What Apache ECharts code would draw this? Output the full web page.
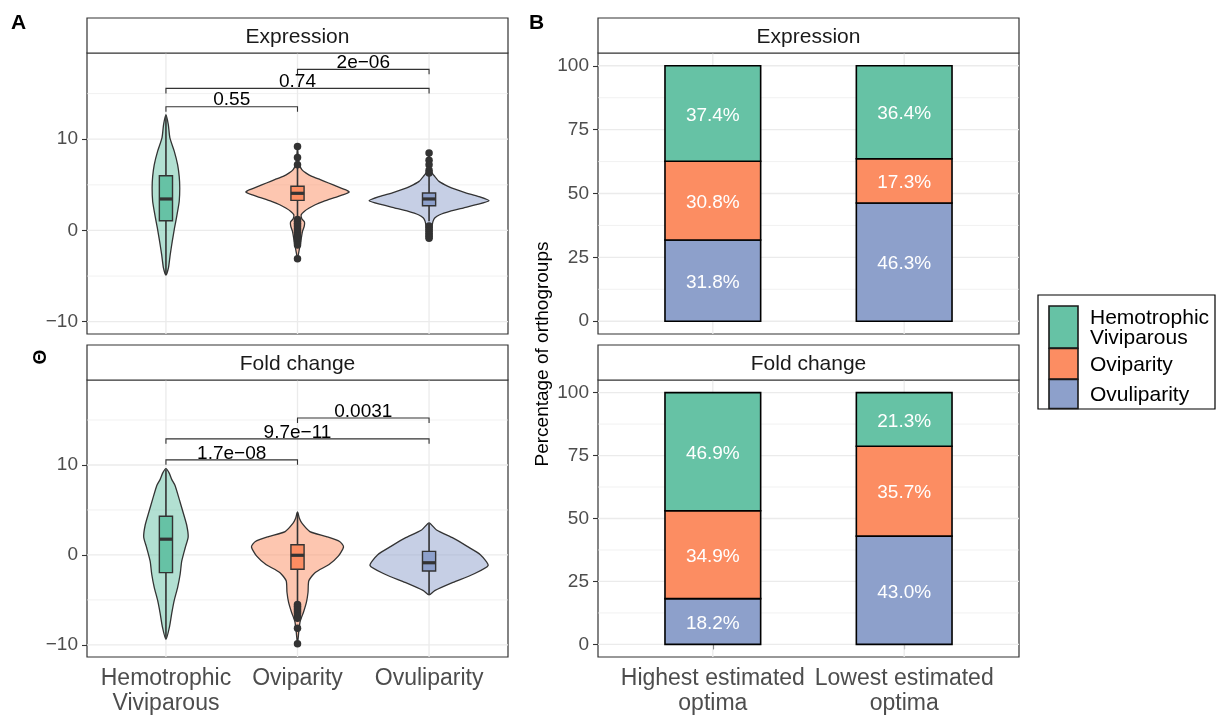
<!DOCTYPE html>
<html>
<head>
<meta charset="utf-8">
<script src="https://cdn.jsdelivr.net/npm/echarts@6/dist/echarts.min.js"></script>
<style>
  html, body { margin: 0; padding: 0; background: #fff; }
  #chart { width: 1216px; height: 716px; }
</style>
</head>
<body>
<div id="chart"></div>
<script>
// groups / facets
const groups = ['Hemotrophic\nViviparous', 'Oviparity', 'Ovuliparity'];
const optima = ['Highest estimated\noptima', 'Lowest estimated\noptima'];
const facets = ['Expression', 'Fold change'];
const colors = ['#66C2A5', '#FC8D62', '#8DA0CB'];

// violin outlines: [value, half width in x units]
const exprHemoViolin = [[12.7, 0], [11.6, .018], [10.15, .03], [8.7, .063], [7.2, .089], [5.9, .101], [4.65, .105], [3.2, .101], [1.7, .084], [0.25, .065], [-1.2, .048], [-2.7, .032], [-4.1, .019], [-4.9, 0]];
const exprOviViolin = [[9.2, 0], [8.0, .006], [7.2, .015], [6.67, .033], [6.31, .063], [5.93, .109], [5.57, .173], [5.2, .236], [4.84, .299], [4.47, .363], [4.22, .393], [3.92, .35], [3.56, .274], [3.19, .198], [2.82, .135], [2.46, .089], [2.09, .051], [1.72, .028], [1.29, .033], [0.92, .053], [0.44, .051], [-0.1, .038], [-1.2, .025], [-2.2, .012], [-3.1, 0]];
const exprOvuViolin = [[8.5, 0], [7.2, .006], [6.5, .015], [5.93, .043], [5.38, .076], [4.84, .144], [4.47, .208], [4.1, .284], [3.74, .373], [3.26, .456], [2.82, .36], [2.46, .259], [2.09, .157], [1.72, .081], [1.36, .043], [0.99, .03], [0.3, .02], [-0.85, 0]];
const foldHemoViolin = [[9.6, 0], [9.1, .025], [8.4, .044], [7.7, .07], [6.2, .101], [4.8, .129], [3.3, .158], [2.0, .169], [0.77, .146], [-0.7, .12], [-2.15, .108], [-3.6, .089], [-5.06, .063], [-6.5, .044], [-8.0, .027], [-9.4, 0]];
const foldOviViolin = [[4.78, 0], [4.04, .015], [3.5, .035], [2.59, .094], [2.04, .22], [1.5, .32], [0.9, .35], [-0.14, .31], [-1.06, .24], [-1.97, .133], [-2.88, .086], [-4.15, .08], [-5.25, .068], [-6.34, .046], [-7.4, .02], [-8.5, .01], [-9.9, 0]];
const foldOvuViolin = [[3.57, 0], [2.77, .057], [1.86, .184], [0.95, .29], [0.03, .39], [-1.17, .449], [-2.15, .335], [-3.06, .182], [-3.97, .043], [-4.45, 0]];

// box stats: [lower whisker, q1, median, q3, upper whisker]
const exprBoxes = [[-4.8, 1.07, 3.45, 6.0, 12.6], [1.5, 3.3, 4.07, 4.84, 7.0], [1.0, 2.7, 3.45, 4.1, 6.1]];
const foldBoxes = [[-9.3, -1.97, 1.75, 4.3, 9.5], [-5.4, -1.6, -0.04, 1.13, 4.7], [-4.4, -1.78, -0.87, 0.4, 3.5]];

// outliers: [group position, value]
const exprOutliers = [[2, 9.2], [2, 8.0], [2, 7.2], [2, 1.2], [2, 1.0], [2, 0.8], [2, 0.6], [2, 0.4], [2, 0.2], [2, 0.0], [2, -0.2], [2, -0.4], [2, -0.6], [2, -0.8], [2, -1.0], [2, -1.2], [2, -1.4], [2, -1.6], [2, -3.1],
  [3, 8.5], [3, 7.7], [3, 7.2], [3, 6.6], [3, 6.3], [3, 0.5], [3, 0.3], [3, 0.1], [3, -0.1], [3, -0.3], [3, -0.5], [3, -0.7], [3, -0.85]];
const foldOutliers = [[2, -5.5], [2, -5.7], [2, -5.9], [2, -6.1], [2, -6.3], [2, -6.5], [2, -6.8], [2, -7.05], [2, -8.15], [2, -9.87]];

// significance brackets: [from, to, height, p]
const exprBrackets = [[1, 2, 13.56, '0.55'], [1, 3, 15.57, '0.74'], [2, 3, 17.66, '2e\u221206']];
const foldBrackets = [[1, 2, 10.57, '1.7e\u221208'], [1, 3, 12.9, '9.7e\u221211'], [2, 3, 15.22, '0.0031']];

// percentages per optimum [Highest, Lowest]
const exprHemotrophic = [37.4, 36.4];
const exprOviparity = [30.8, 17.3];
const exprOvuliparity = [31.8, 46.3];
const foldHemotrophic = [46.9, 21.3];
const foldOviparity = [34.9, 35.7];
const foldOvuliparity = [18.2, 43.0];

// axis ticks / grid lines
const aTicks = [-10, 0, 10];
const aMinor = [-5, 5, 15];
const bTicks = [0, 25, 50, 75, 100];
const bMinor = [12.5, 37.5, 62.5, 87.5];

const FONT = '"Liberation Sans", Arial, Helvetica, sans-serif';
const fills = ['rgba(102,194,165,0.5)', 'rgba(252,141,98,0.5)', 'rgba(141,160,203,0.5)'];
const DARK = '#333333';
const minus = v => String(v).replace('-', '\u2212');

const chart = echarts.init(document.getElementById('chart'));

const gridBox = [
  { left: 87, top: 53 }, { left: 87, top: 380 },
  { left: 598, top: 53 }, { left: 598, top: 380 }
];

function gridLineSeries(i, xs, ticks, minor) {
  return {
    type: 'custom', xAxisIndex: i, yAxisIndex: i, silent: true, z: 1,
    data: [[xs[0], ticks[1]]],
    renderItem: function (params, api) {
      const cs = params.coordSys;
      const ch = [];
      minor.forEach(v => {
        const y = api.coord([xs[0], v])[1];
        ch.push({ type: 'line', shape: { x1: cs.x, y1: y, x2: cs.x + cs.width, y2: y }, style: { stroke: '#EBEBEB', lineWidth: 0.7 } });
      });
      ticks.forEach(v => {
        const y = api.coord([xs[0], v])[1];
        ch.push({ type: 'line', shape: { x1: cs.x, y1: y, x2: cs.x + cs.width, y2: y }, style: { stroke: '#EBEBEB', lineWidth: 1.3 } });
      });
      xs.forEach(v => {
        const x = api.coord([v, ticks[1]])[0];
        ch.push({ type: 'line', shape: { x1: x, y1: cs.y, x2: x, y2: cs.y + cs.height }, style: { stroke: '#EBEBEB', lineWidth: 1.3 } });
      });
      return { type: 'group', children: ch };
    }
  };
}

function violinSeries(i, profiles, boxes) {
  const BOX = 0.05;
  return {
    type: 'custom', xAxisIndex: i, yAxisIndex: i, silent: true, z: 3,
    data: boxes.map((b, k) => [k + 1, b[2]]),
    renderItem: function (params, api) {
      const k = params.dataIndex, x = k + 1, prof = profiles[k], b = boxes[k];
      const pts = prof.map(p => api.coord([x + p[1], p[0]]));
      for (let j = prof.length - 2; j >= 1; j--) pts.push(api.coord([x - prof[j][1], prof[j][0]]));
      const cx = api.coord([x, 0])[0];
      const hi = api.coord([x, b[4]])[1], lo = api.coord([x, b[0]])[1];
      const tl = api.coord([x - BOX, b[3]]), br = api.coord([x + BOX, b[1]]);
      const med = api.coord([x, b[2]])[1];
      return {
        type: 'group', children: [
          { type: 'polygon', shape: { points: pts, smooth: 0.2 }, style: { fill: fills[k], stroke: DARK, lineWidth: 1.3 } },
          { type: 'line', shape: { x1: cx, y1: hi, x2: cx, y2: lo }, style: { stroke: DARK, lineWidth: 1.6 } },
          { type: 'rect', shape: { x: tl[0], y: tl[1], width: br[0] - tl[0], height: br[1] - tl[1] }, style: { fill: colors[k], stroke: DARK, lineWidth: 1.4 } },
          { type: 'line', shape: { x1: tl[0], y1: med, x2: br[0], y2: med }, style: { stroke: DARK, lineWidth: 3.2 } }
        ]
      };
    }
  };
}

function outlierSeries(i, pts) {
  return {
    type: 'scatter', xAxisIndex: i, yAxisIndex: i, silent: true, z: 4,
    symbol: 'circle', symbolSize: 7.5, itemStyle: { color: DARK, opacity: 1 },
    data: pts
  };
}

function bracketSeries(i, brackets) {
  const TIP = 0.55;
  return {
    type: 'custom', xAxisIndex: i, yAxisIndex: i, silent: true, z: 5,
    data: brackets.map(b => [b[0], b[2]]),
    renderItem: function (params, api) {
      const b = brackets[params.dataIndex];
      const p1 = api.coord([b[0], b[2]]), p2 = api.coord([b[1], b[2]]);
      const t = api.coord([b[0], b[2] - TIP])[1];
      return {
        type: 'group', children: [
          { type: 'polyline', shape: { points: [[p1[0], t], p1, p2, [p2[0], t]] }, style: { stroke: DARK, lineWidth: 1.1, fill: 'none' } },
          { type: 'text', x: (p1[0] + p2[0]) / 2, y: p1[1] + 3, style: { text: b[3], fill: '#000', fontSize: 19, fontFamily: FONT, align: 'center', verticalAlign: 'bottom', textAlign: 'center', textVerticalAlign: 'bottom' } }
        ]
      };
    }
  };
}

function stackSeries(i, layers) {
  const base = [0, 0];
  return layers.map(layer => {
    const data = layer.vals.map((v, j) => {
      const d = [j + 1, base[j], base[j] + v, v];
      base[j] += v;
      return d;
    });
    return {
      type: 'custom', xAxisIndex: i, yAxisIndex: i, silent: true, z: 3,
      encode: { x: 0, y: [1, 2] },
      data: data,
      renderItem: function (params, api) {
        const x = api.value(0), y0 = api.value(1), y1 = api.value(2);
        const a = api.coord([x - 0.25, y1]), c = api.coord([x + 0.25, y0]);
        return {
          type: 'group', children: [
            { type: 'rect', shape: { x: a[0], y: a[1], width: c[0] - a[0], height: c[1] - a[1] }, style: { fill: layer.color, stroke: '#000', lineWidth: 1.6 } },
            { type: 'text', x: (a[0] + c[0]) / 2, y: (a[1] + c[1]) / 2 + 2, style: { text: api.value(3).toFixed(1) + '%', fill: '#fff', fontSize: 19, fontFamily: FONT, align: 'center', verticalAlign: 'middle', textAlign: 'center', textVerticalAlign: 'middle' } }
          ]
        };
      }
    };
  });
}

function xAxis(i, max, labels) {
  const ticks = labels ? labels.map((_, k) => k + 1) : [];
  return {
    type: 'value', gridIndex: i, min: 0.4, max: max,
    axisLine: { show: false },
    splitLine: { show: false },
    axisTick: { show: !!labels, customValues: ticks, length: 5, lineStyle: { color: DARK, width: 1.1 } },
    axisLabel: {
      show: !!labels, customValues: ticks, margin: 9,
      color: '#4D4D4D', fontSize: 23, lineHeight: 25, fontFamily: FONT,
      formatter: v => labels ? labels[Math.round(v) - 1] : ''
    }
  };
}

function yAxis(i, min, max, ticks) {
  return {
    type: 'value', gridIndex: i, min: min, max: max,
    axisLine: { show: false },
    splitLine: { show: false },
    axisTick: { show: true, customValues: ticks, length: 5, lineStyle: { color: DARK, width: 1.1 } },
    axisLabel: { customValues: ticks, margin: 9, color: '#4D4D4D', fontSize: 19, fontFamily: FONT, formatter: minus }
  };
}

function strip(left, top, label) {
  return [
    { type: 'rect', shape: { x: left, y: top, width: 421, height: 35 }, style: { fill: '#fff', stroke: DARK, lineWidth: 1.2 }, z: 10 },
    { type: 'text', x: left + 210.5, y: top + 19, z: 11, style: { text: label, fill: '#1A1A1A', fontSize: 21, fontFamily: FONT, align: 'center', verticalAlign: 'middle', textAlign: 'center', textVerticalAlign: 'middle' } }
  ];
}

const legendKeys = [
  { y: 306, h: 42, c: colors[0], t: groups[0] },
  { y: 348.5, h: 30.5, c: colors[1], t: groups[1] },
  { y: 379.5, h: 29, c: colors[2], t: groups[2] }
];
const legendGraphic = [
  { type: 'rect', shape: { x: 1038, y: 295, width: 177, height: 114 }, style: { fill: '#fff', stroke: '#000', lineWidth: 1.2 }, z: 10 }
];
legendKeys.forEach(k => {
  legendGraphic.push({ type: 'rect', shape: { x: 1049, y: k.y, width: 29, height: k.h }, style: { fill: k.c, stroke: '#1A1A1A', lineWidth: 1.6 }, z: 11 });
  legendGraphic.push({ type: 'text', x: 1090, y: k.y + k.h / 2 + 1, z: 11, style: { text: k.t, fill: '#000', fontSize: 21, lineHeight: 20, fontFamily: FONT, align: 'left', verticalAlign: 'middle', textAlign: 'left', textVerticalAlign: 'middle' } });
});

chart.setOption({
  animation: false,
  backgroundColor: '#fff',
  textStyle: { fontFamily: FONT },
  grid: gridBox.map(g => ({ left: g.left, top: g.top, width: 421, height: 281, show: true, borderColor: DARK, borderWidth: 1.2, backgroundColor: 'transparent', containLabel: false })),
  xAxis: [xAxis(0, 3.6, null), xAxis(1, 3.6, groups), xAxis(2, 2.6, null), xAxis(3, 2.6, optima)],
  yAxis: [yAxis(0, -11.35, 19.45, aTicks), yAxis(1, -11.35, 19.45, aTicks), yAxis(2, -5, 105, bTicks), yAxis(3, -5, 105, bTicks)],
  graphic: [].concat(
    strip(87, 18, facets[0]), strip(87, 345, facets[1]),
    strip(598, 18, facets[0]), strip(598, 345, facets[1]),
    legendGraphic,
    [
      { type: 'text', x: 11, y: 13, style: { text: 'A', fill: '#000', fontSize: 21, fontWeight: 'bold', fontFamily: FONT } },
      { type: 'text', x: 529, y: 13, style: { text: 'B', fill: '#000', fontSize: 21, fontWeight: 'bold', fontFamily: FONT } },
      { type: 'text', x: 41, y: 357, rotation: Math.PI / 2, style: { text: '\u0398', fill: '#000', fontSize: 19, fontWeight: 'bold', fontFamily: FONT, align: 'center', verticalAlign: 'middle', textAlign: 'center', textVerticalAlign: 'middle' } },
      { type: 'text', x: 543, y: 354, rotation: Math.PI / 2, style: { text: 'Percentage of orthogroups', fill: '#000', fontSize: 19, fontFamily: FONT, align: 'center', verticalAlign: 'middle', textAlign: 'center', textVerticalAlign: 'middle' } }
    ]
  ),
  series: [
    gridLineSeries(0, [1, 2, 3], aTicks, aMinor),
    gridLineSeries(1, [1, 2, 3], aTicks, aMinor),
    gridLineSeries(2, [1, 2], bTicks, bMinor),
    gridLineSeries(3, [1, 2], bTicks, bMinor),
    violinSeries(0, [exprHemoViolin, exprOviViolin, exprOvuViolin], exprBoxes),
    violinSeries(1, [foldHemoViolin, foldOviViolin, foldOvuViolin], foldBoxes),
    outlierSeries(0, exprOutliers),
    outlierSeries(1, foldOutliers),
    bracketSeries(0, exprBrackets),
    bracketSeries(1, foldBrackets)
  ].concat(
    stackSeries(2, [{ vals: exprOvuliparity, color: colors[2] }, { vals: exprOviparity, color: colors[1] }, { vals: exprHemotrophic, color: colors[0] }]),
    stackSeries(3, [{ vals: foldOvuliparity, color: colors[2] }, { vals: foldOviparity, color: colors[1] }, { vals: foldHemotrophic, color: colors[0] }])
  )
});
</script>
</body>
</html>
